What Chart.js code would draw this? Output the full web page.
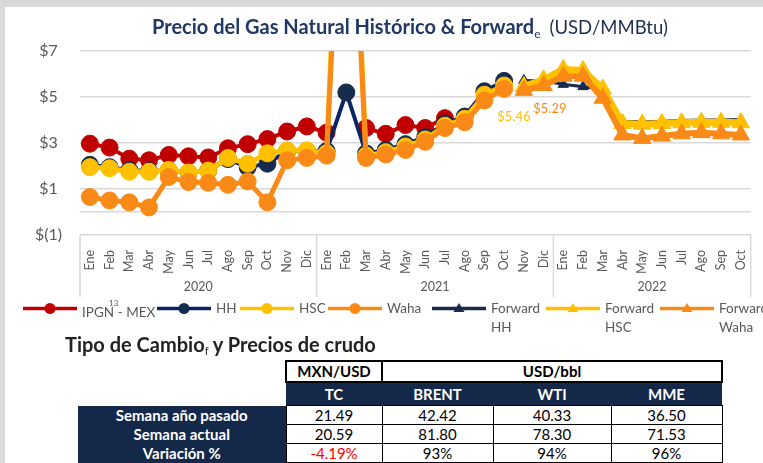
<!DOCTYPE html>
<html lang="es">
<head>
<meta charset="utf-8">
<script src="https://cdn.jsdelivr.net/npm/chart.js@4.4.0/dist/chart.umd.min.js"></script>
<style>
  html, body { margin: 0; padding: 0; }
  body { width: 763px; height: 463px; position: relative; overflow: hidden; background: #fff;
         font-family: Lato, "Liberation Sans", sans-serif; }
  .frame-top { position: absolute; left: 0; top: 0; width: 763px; height: 7px; background: #d9d9d9; }
  .frame-left { position: absolute; left: 0; top: 0; width: 5px; height: 463px; background: #d9d9d9; }
  #title { position: absolute; left: 152px; top: 14px; white-space: nowrap; font-size: 20px; color: #1f3864; }
  #title b { font-weight: 700; }
  #title sub { font-size: 12px; font-weight: 400; vertical-align: -4px; }
  #title .unit { font-weight: 400; font-size: 18.5px; color: #1f2d4d; margin-left: 9px; }
  #chartBox { position: absolute; left: 0; top: 0; width: 763px; height: 300px; }
  #legend { position: absolute; left: 0; top: 299px; width: 763px; height: 40px; }
  .lg-item { position: absolute; top: 0; display: flex; align-items: flex-start; }
  .lg-item svg { display: block; }
  .lg-text { margin-left: 5px; font-size: 13.5px; line-height: 19px; color: #595959; }
  .lg-text.wrap { width: 52px; }
  .lg-text sup { font-size: 8px; position: relative; top: -5px; margin-left: -5px; margin-right: -4px; }
  #tblTitle { position: absolute; left: 65px; top: 332px; font-size: 20px; font-weight: 700; color: #222; white-space: nowrap; }
  #tblTitle sub { font-size: 11px; font-weight: 400; vertical-align: -3px; }
  #tabla { position: absolute; left: 78px; top: 360px; border-collapse: collapse; table-layout: fixed;
           font-size: 15px; color: #000; }
  #tabla td { padding: 0; text-align: center; white-space: nowrap; line-height: 17px; }
  #tabla tr.h1 td { height: 19px; font-weight: 700; }
  #tabla tr.h1 td.box { border: 2px solid #000; }
  #tabla tr.h2 td { height: 22px; font-weight: 700; background: #14284a; color: #fff; }
  #tabla tr.h2 td.blank { background: #fff; }
  #tabla tr.d td { height: 18px; border: 1px solid #000; }
  #tabla tr.d td.rh { background: #14284a; color: #fff; font-weight: 700; border: none; }
  #tabla td.neg { color: #ff0000; }
</style>
</head>
<body>
<div class="frame-top"></div>
<div class="frame-left"></div>
<div id="chartBox"><canvas id="gasChart"></canvas></div>
<div id="title"><b>Precio del Gas Natural Histórico &amp; Forward</b><sub>e</sub><span class="unit">(USD/MMBtu)</span></div>
<div id="legend"></div>
<div id="tblTitle">Tipo de Cambio<sub>f</sub> y Precios de crudo</div>
<table id="tabla"></table>

<script>
// categorías del eje x
const months = ['Ene', 'Feb', 'Mar', 'Abr', 'May', 'Jun', 'Jul', 'Ago', 'Sep', 'Oct', 'Nov', 'Dic'];
const years = ['2020', '2021', '2022'];
const monthsPerYear = [12, 12, 10];
const categories = years.flatMap((y, i) => months.slice(0, monthsPerYear[i]));

// histórico Ene-2020 .. Oct-2021
const ipgnMex = [2.97, 2.8, 2.32, 2.25, 2.48, 2.42, 2.37, 2.77, 2.95, 3.17, 3.5, 3.72,
                 3.45, null, 3.65, 3.4, 3.78, 3.65, 4.08, null, null, null];
const hh = [2.05, 1.95, 1.82, 1.78, 1.8, 1.7, 1.8, 2.3, 1.95, 2.1, 2.65, 2.65,
            2.65, 5.2, 2.55, 2.7, 2.95, 3.25, 3.85, 4.15, 5.25, 5.7];
const hsc = [1.95, 1.9, 1.75, 1.75, 1.83, 1.72, 1.8, 2.35, 2.1, 2.55, 2.68, 2.68,
             2.55, 22.0, 2.45, 2.6, 2.85, 3.15, 3.75, 4.05, 5.1, 5.5];
const waha = [0.65, 0.5, 0.42, 0.2, 1.52, 1.3, 1.27, 1.18, 1.33, 0.42, 2.25, 2.35,
              2.45, 20.0, 2.35, 2.5, 2.7, 3.05, 3.65, 3.9, 4.85, 5.35];

// forward Nov-2021 .. Oct-2022
const fwdHH = [5.72, 5.7, 5.55, 5.45, 5.35, 3.95, 3.92, 3.95, 3.98, 4.0, 4.0, 4.02];
const fwdHSC = [5.46, 5.75, 6.2, 6.15, 5.35, 3.85, 3.82, 3.85, 3.88, 3.9, 3.9, 3.88];
const fwdWaha = [5.29, 5.5, 5.9, 5.9, 4.95, 3.35, 3.2, 3.3, 3.4, 3.45, 3.4, 3.35];

const yTicks = [-1, 0, 1, 3, 5, 7];

// tabla tipo de cambio / crudo
const tblRows = ['Semana año pasado', 'Semana actual', 'Variación %'];
const tblCols = ['TC', 'BRENT', 'WTI', 'MME'];
const tcVals = ['21.49', '20.59', '-4.19%'];
const brentVals = ['42.42', '81.80', '93%'];
const wtiVals = ['40.33', '78.30', '94%'];
const mmeVals = ['36.50', '71.53', '96%'];

const n = categories.length;
const histPad = arr => arr.concat(Array(n - arr.length).fill(null));
const fwdPad = arr => Array(n - arr.length).fill(null).concat(arr);

const RED = '#c00000', NAVY = '#0b2462', NAVY_PT = '#172b4d', YEL = '#ffc000', ORA = '#f98a17';
const GRAY_TXT = '#595959';

const clipTop = { left: 20, top: 0, right: 20, bottom: 20 };

const datasets = [
  { label: 'IPGN - MEX', data: histPad(ipgnMex), borderColor: RED, backgroundColor: RED,
    borderWidth: 4, pointRadius: 8.5, pointStyle: 'circle', pointBorderColor: RED, order: 7 },
  { label: 'HH', data: histPad(hh), borderColor: NAVY, backgroundColor: NAVY_PT,
    borderWidth: 4, pointRadius: 8.5, pointStyle: 'circle', pointBorderColor: NAVY_PT, order: 6 },
  { label: 'HSC', data: histPad(hsc), borderColor: YEL, backgroundColor: YEL,
    borderWidth: 5, pointRadius: 8.5, pointStyle: 'circle', pointBorderColor: YEL, order: 5 },
  { label: 'Waha', data: histPad(waha), borderColor: ORA, backgroundColor: ORA,
    borderWidth: 5, pointRadius: 8.5, pointStyle: 'circle', pointBorderColor: ORA, order: 4 },
  { label: 'Forward HH', data: fwdPad(fwdHH), borderColor: NAVY_PT, backgroundColor: NAVY_PT,
    borderWidth: 3, pointRadius: 6, pointStyle: 'triangle', pointBorderColor: NAVY_PT, order: 3 },
  { label: 'Forward HSC', data: fwdPad(fwdHSC), borderColor: YEL, backgroundColor: YEL,
    borderWidth: 7, pointRadius: 10, pointStyle: 'triangle', pointBorderColor: YEL, order: 2 },
  { label: 'Forward Waha', data: fwdPad(fwdWaha), borderColor: ORA, backgroundColor: ORA,
    borderWidth: 6, pointRadius: 10, pointStyle: 'triangle', pointBorderColor: ORA, order: 1 }
];
datasets.forEach(d => { d.clip = clipTop; d.pointBorderWidth = 1; d.tension = 0; d.spanGaps = false; });

// etiquetas de valor sobre el primer punto forward
const valueLabels = [
  { dataset: 5, index: n - fwdHSC.length, dx: -10, dy: 30 },
  { dataset: 6, index: n - fwdWaha.length, dx: 26, dy: 18 }
];

// eje de categorías en dos niveles (mes / año)
const yearAxis = {
  id: 'yearAxis',
  afterDraw(chart) {
    const { ctx, chartArea, scales: { x } } = chart;
    ctx.save();
    ctx.strokeStyle = '#d9d9d9';
    ctx.lineWidth = 1.5;
    let start = 0;
    const edges = [x.getPixelForValue(-0.5)];
    monthsPerYear.forEach(c => { start += c; edges.push(x.getPixelForValue(start - 0.5)); });
    edges.forEach(px => {
      ctx.beginPath();
      ctx.moveTo(px, chartArea.bottom);
      ctx.lineTo(px, chartArea.bottom + 62);
      ctx.stroke();
    });
    ctx.fillStyle = GRAY_TXT;
    ctx.font = '12.5px Lato';
    ctx.textAlign = 'center';
    ctx.textBaseline = 'middle';
    years.forEach((y, i) => ctx.fillText(y, (edges[i] + edges[i + 1]) / 2, chartArea.bottom + 52));
    ctx.restore();
  }
};

const pointLabels = {
  id: 'pointLabels',
  afterDatasetsDraw(chart) {
    const { ctx } = chart;
    ctx.save();
    ctx.font = '13px Lato';
    ctx.textAlign = 'center';
    ctx.textBaseline = 'middle';
    valueLabels.forEach(l => {
      const ds = chart.data.datasets[l.dataset];
      const pt = chart.getDatasetMeta(l.dataset).data[l.index];
      ctx.fillStyle = ds.borderColor;
      ctx.fillText('$' + ds.data[l.index].toFixed(2), pt.x + l.dx, pt.y + l.dy);
    });
    ctx.restore();
  }
};

const chart = new Chart(document.getElementById('gasChart'), {
  type: 'line',
  data: { labels: categories, datasets },
  options: {
    responsive: true,
    maintainAspectRatio: false,
    animation: false,
    layout: { padding: { top: 51, right: 1, left: 0, bottom: 0 } },
    plugins: { legend: { display: false }, tooltip: { enabled: false } },
    scales: {
      x: {
        offset: true,
        grid: { display: false },
        border: { display: false },
        ticks: { autoSkip: false, minRotation: 90, maxRotation: 90, padding: 7,
                 color: GRAY_TXT, font: { family: 'Lato', size: 12.5 } },
        afterFit: s => { s.height = 65; }
      },
      y: {
        min: -1, max: 7,
        afterBuildTicks: s => { s.ticks = yTicks.map(v => ({ value: v })); },
        grid: { color: '#d9d9d9', lineWidth: 1.5, drawTicks: false },
        border: { display: false },
        ticks: { padding: 18, color: GRAY_TXT, font: { family: 'Lato', size: 16 },
                 callback: v => v === 0 ? '' : (v < 0 ? '$(' + Math.abs(v) + ')' : '$' + v + ' ') },
        afterFit: s => { s.width = 80; }
      }
    }
  },
  plugins: [yearAxis, pointLabels]
});

// leyenda
const legendLeft = [23, 157, 240, 328, 432, 546, 660];
const legendEl = document.getElementById('legend');
datasets.forEach((d, i) => {
  const item = document.createElement('div');
  item.className = 'lg-item';
  item.style.left = legendLeft[i] + 'px';
  const mk = d.pointStyle === 'circle'
    ? `<circle cx="27" cy="9.5" r="5.5" fill="${d.backgroundColor}"/>`
    : `<polygon points="27,4 32.5,13 21.5,13" fill="${d.backgroundColor}"/>`;
  const label = d.label === 'IPGN - MEX' ? 'IPGN<sup>13</sup> - MEX' : d.label;
  item.innerHTML = `<svg width="54" height="19"><line x1="0" y1="9.5" x2="54" y2="9.5" stroke="${d.borderColor}" stroke-width="3.5" stroke-linecap="round"/>${mk}</svg>` +
    `<span class="lg-text${d.label.startsWith('Forward') ? ' wrap' : ''}">${label}</span>`;
  legendEl.appendChild(item);
});

// tabla
const cols = [tcVals, brentVals, wtiVals, mmeVals];
const colW = [208, 96, 111, 118, 111];
let html = '<colgroup>' + colW.map(w => `<col style="width:${w}px">`).join('') + '</colgroup>';
html += '<tr class="h1"><td class="blank"></td><td class="box">MXN/USD</td><td class="box" colspan="3">USD/bbl</td></tr>';
html += '<tr class="h2"><td class="blank"></td>' + tblCols.map(c => `<td>${c}</td>`).join('') + '</tr>';
tblRows.forEach((r, i) => {
  html += `<tr class="d"><td class="rh">${r}</td>` +
    cols.map(c => `<td${c[i].startsWith('-') ? ' class="neg"' : ''}>${c[i]}</td>`).join('') + '</tr>';
});
document.getElementById('tabla').innerHTML = html;
</script>
</body>
</html>
